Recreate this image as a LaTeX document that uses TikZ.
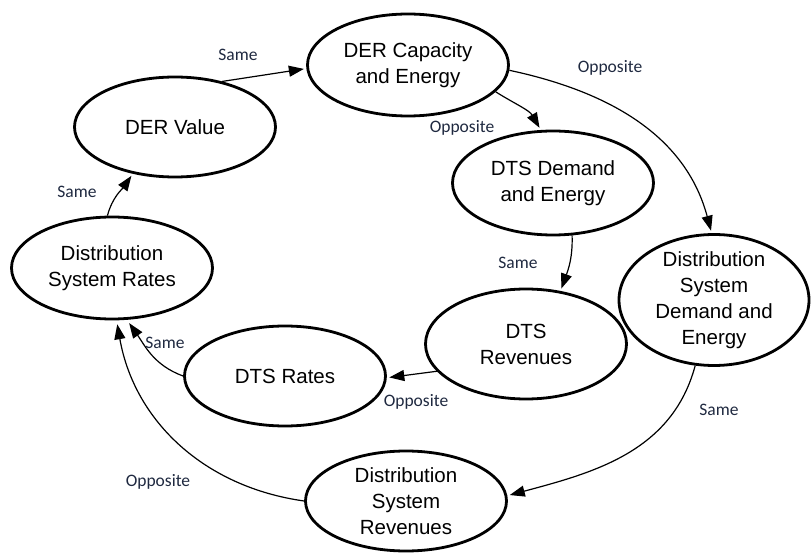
\documentclass[tikz,border=0pt]{standalone}
\usepackage{fontspec}
\setmainfont{Liberation Sans}
\newfontfamily\lblfont{Carlito}
\usetikzlibrary{shapes.geometric,arrows.meta}
\definecolor{lblcol}{HTML}{1F2940}
\begin{document}
\begin{tikzpicture}[x=1pt,y=1pt,
  oval/.style={ellipse,draw,line width=2.8pt,minimum width=201pt,minimum height=101pt,inner sep=0pt,align=center,font=\fontsize{20.5}{26}\selectfont},
  conn/.style={line width=1.2pt,-{Triangle[length=15pt,width=11pt]},shorten >=2.5pt},
  lbl/.style={font=\lblfont\fontsize{17.5}{20}\selectfont,text=lblcol,inner sep=0pt}]
\useasboundingbox (0,0) rectangle (811,-553);
\node[oval,minimum height=102pt] (cap) at (408,-65) {DER Capacity\\and Energy};
\node[oval,minimum height=100pt] (val) at (175,-127) {DER Value};
\node[oval,minimum height=102pt] (rates) at (112,-268) {Distribution\\System Rates};
\node[oval,minimum height=104pt] (dtsd) at (553,-183) {DTS Demand\\and Energy};
\node[oval,minimum width=190pt,minimum height=131pt,inner ysep=-4pt] (dsd) at (714,-300) {Distribution\\System\\Demand and\\Energy};
\node[oval,minimum height=110pt] (dtsr) at (526,-344) {DTS\\Revenues};
\node[oval,minimum height=100pt] (dtsrt) at (285,-376) {DTS Rates};
\node[oval,minimum height=100pt] (dsr) at (406,-501) {Distribution\\System\\Revenues};

\draw[conn] (val.44) -- (cap.182);
\draw[conn] (rates.95) to[out=75,in=235] (val.228);
\draw[conn] (cap.-17) to[out=-32,in=120] (dtsd.103);
\draw[conn] (cap.-3) to[out=-12,in=105] (dsd.92);
\draw[conn] (dtsd.-70) to[out=-88,in=70] (dtsr.57);
\draw[conn] (dtsr.197) -- (dtsrt.-1);
\draw[conn,shorten >=4pt] (dtsrt.180) to[out=160,in=-55] (rates.-74);
\draw[conn] (dsd.-106) to[out=-105,in=15] (dsr.3);
\draw[conn,shorten >=4pt] (dsr.180) to[out=172,in=-80] (rates.-85);

\node[lbl] (l1) at (238,-55) {Same};
\node[lbl] (l2) at (77,-192) {Same};
\node[lbl] (l3) at (462,-128) {Opposite};
\node[lbl] (l4) at (610,-68) {Opposite};
\node[lbl] (l5) at (518,-263) {Same};
\node[lbl] (l6) at (416,-402) {Opposite};
\node[lbl] (l7) at (165,-343) {Same};
\node[lbl] (l8) at (719,-410) {Same};
\node[lbl] (l9) at (158,-482) {Opposite};
\end{tikzpicture}
\end{document}
